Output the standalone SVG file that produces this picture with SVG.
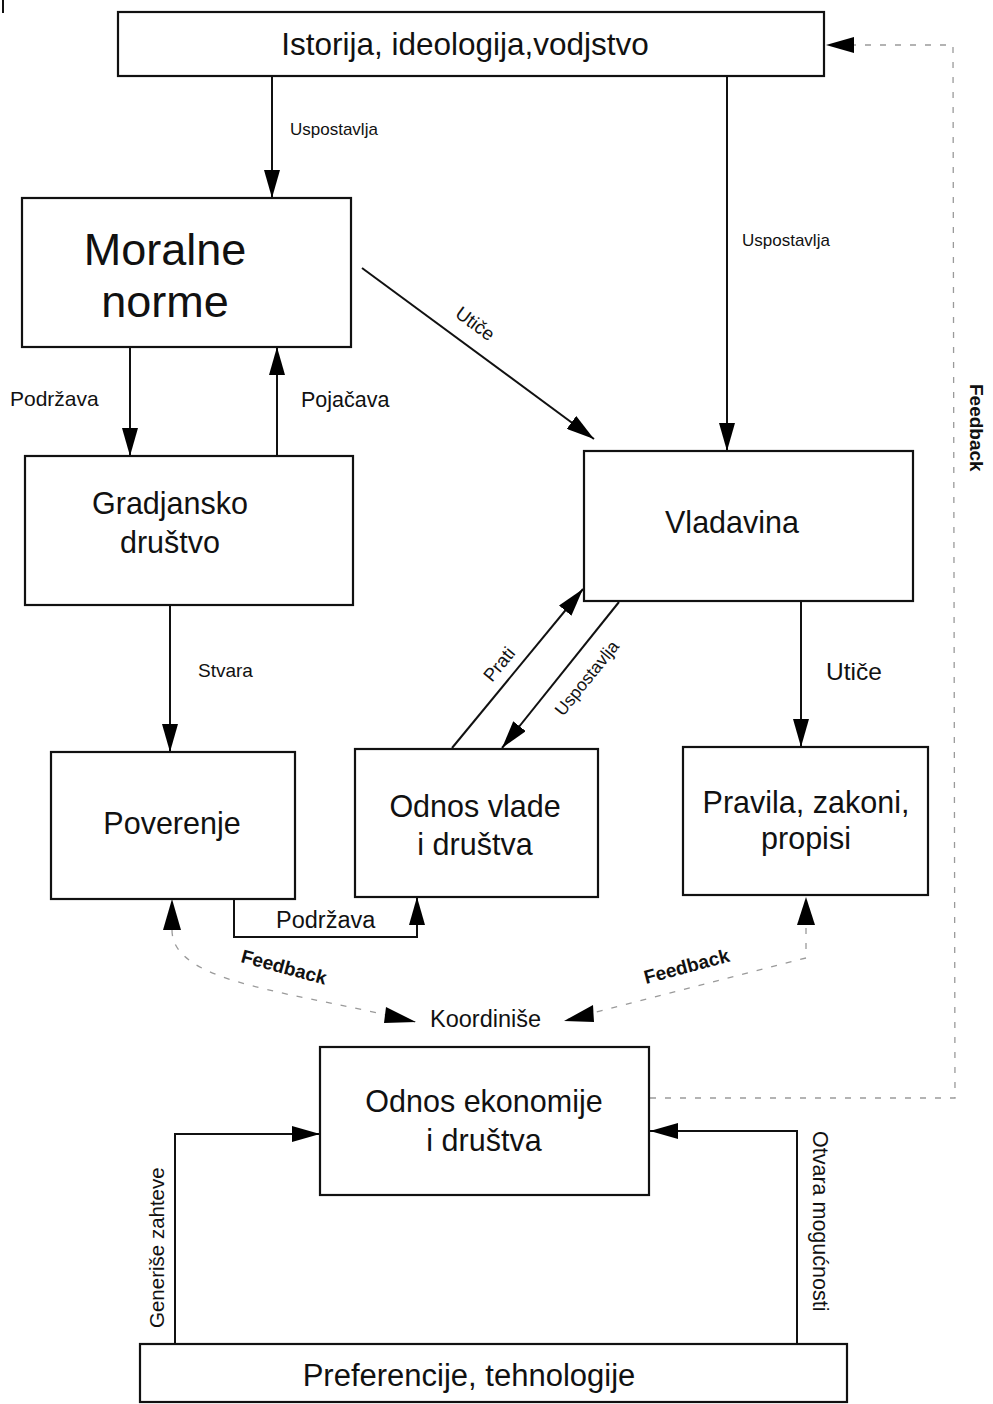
<svg xmlns="http://www.w3.org/2000/svg" width="993" height="1404" viewBox="0 0 993 1404">
<style>
.box{fill:#fff;stroke:#111;stroke-width:2.2}
.t{font-family:"Liberation Sans",Arial,sans-serif;fill:#111;text-anchor:middle}
.l{font-family:"Liberation Sans",Arial,sans-serif;fill:#111}
.fb{font-family:"Liberation Sans",Arial,sans-serif;fill:#111;font-weight:bold}
.c{fill:none;stroke:#111;stroke-width:2}
.d{fill:none;stroke:#9a9a9a;stroke-width:1.3;stroke-dasharray:6 9}
</style>
<defs>
<marker id="ah" viewBox="0 0 28 16" refX="28" refY="8" markerWidth="28" markerHeight="16" markerUnits="userSpaceOnUse" orient="auto-start-reverse">
<path d="M0,0 L28,8 L0,16 z" fill="#000"/>
</marker>
</defs>
<rect width="993" height="1404" fill="#fff"/>
<line x1="3" y1="0" x2="3" y2="13" stroke="#111" stroke-width="2"/>

<g id="connectors">
<line class="c" x1="272" y1="76" x2="272" y2="198" marker-end="url(#ah)"/>
<text class="l" x="290" y="135" font-size="17">Uspostavlja</text>
<line class="c" x1="727" y1="76" x2="727" y2="451" marker-end="url(#ah)"/>
<text class="l" x="742" y="246" font-size="17">Uspostavlja</text>
<line class="c" x1="362" y1="268" x2="594" y2="439" marker-end="url(#ah)"/>
<text class="l" font-size="19" transform="translate(454,316) rotate(36.4)">Utiče</text>
<line class="c" x1="130" y1="347" x2="130" y2="456" marker-end="url(#ah)"/>
<text class="l" x="10" y="406" font-size="21">Podržava</text>
<line class="c" x1="277" y1="456" x2="277" y2="347" marker-end="url(#ah)"/>
<text class="l" x="301" y="407" font-size="21.5">Pojačava</text>
<line class="c" x1="170" y1="605" x2="170" y2="752" marker-end="url(#ah)"/>
<text class="l" x="198" y="677" font-size="19">Stvara</text>
<line class="c" x1="452" y1="748" x2="583" y2="589" marker-end="url(#ah)"/>
<text class="l" font-size="18.5" transform="translate(492,683) rotate(-50.5)">Prati</text>
<line class="c" x1="619" y1="602" x2="502" y2="748" marker-end="url(#ah)"/>
<text class="l" font-size="17.5" transform="translate(563,717) rotate(-51)">Uspostavlja</text>
<line class="c" x1="801" y1="601" x2="801" y2="747" marker-end="url(#ah)"/>
<text class="l" x="826" y="680" font-size="24.5">Utiče</text>
<path class="c" d="M234,899 L234,937 L417,937 L417,897" marker-end="url(#ah)"/>
<text class="l" x="276" y="928" font-size="23.5">Podržava</text>
<path class="d" d="M172,930 C172,985 300,992 415,1022"/>
<path d="M172,899 L181,930 L163,930 z" fill="#000"/>
<path d="M386,1007 L416,1022 L384,1023 z" fill="#000"/>
<text class="fb" font-size="19" transform="translate(240,962) rotate(15)">Feedback</text>
<path class="d" d="M806,928 L806,958 L565,1020"/>
<path d="M806,897 L815,925 L797,925 z" fill="#000"/>
<path d="M564,1021 L593,1005 L594,1022 z" fill="#000"/>
<text class="fb" font-size="19" transform="translate(646,984) rotate(-15)">Feedback</text>
<text class="l" x="430" y="1027" font-size="23.5">Koordiniše</text>
<path class="d" d="M650,1098 L955,1098 L953,45 L826,45" marker-end="url(#ah)"/>
<text class="fb" font-size="19" transform="translate(970,384) rotate(90)">Feedback</text>
<path class="c" d="M175,1344 L175,1134 L320,1134" marker-end="url(#ah)"/>
<text class="l" font-size="20.5" transform="translate(164,1328) rotate(-90)">Generiše zahteve</text>
<path class="c" d="M797,1344 L797,1131 L650,1131" marker-end="url(#ah)"/>
<text class="l" font-size="21.5" transform="translate(813,1131) rotate(90)">Otvara mogućnosti</text>
</g>

<g id="n-istorija">
<rect class="box" x="118" y="12" width="706" height="64"/>
<text class="t" x="465" y="55" font-size="31.5">Istorija, ideologija,vodjstvo</text>
</g>
<g id="n-moralne">
<rect class="box" x="22" y="198" width="329" height="149"/>
<text class="t" x="165" y="265" font-size="45">Moralne</text>
<text class="t" x="165" y="317" font-size="45">norme</text>
</g>
<g id="n-gradjansko">
<rect class="box" x="25" y="456" width="328" height="149"/>
<text class="t" x="170" y="514" font-size="30.5">Gradjansko</text>
<text class="t" x="170" y="553" font-size="30.5">društvo</text>
</g>
<g id="n-vladavina">
<rect class="box" x="584" y="451" width="329" height="150"/>
<text class="t" x="732" y="533" font-size="30.5">Vladavina</text>
</g>
<g id="n-poverenje">
<rect class="box" x="51" y="752" width="244" height="147"/>
<text class="t" x="172" y="834" font-size="30.5">Poverenje</text>
</g>
<g id="n-odnos-vlade">
<rect class="box" x="355" y="749" width="243" height="148"/>
<text class="t" x="475" y="817" font-size="30.5">Odnos vlade</text>
<text class="t" x="475" y="855" font-size="30.5">i društva</text>
</g>
<g id="n-pravila">
<rect class="box" x="683" y="747" width="245" height="148"/>
<text class="t" x="806" y="813" font-size="30.5">Pravila, zakoni,</text>
<text class="t" x="806" y="849" font-size="30.5">propisi</text>
</g>
<g id="n-odnos-ekonomije">
<rect class="box" x="320" y="1047" width="329" height="148"/>
<text class="t" x="484" y="1112" font-size="30.5">Odnos ekonomije</text>
<text class="t" x="484" y="1151" font-size="30.5">i društva</text>
</g>
<g id="n-preferencije">
<rect class="box" x="140" y="1344" width="707" height="58"/>
<text class="t" x="469" y="1386" font-size="31">Preferencije, tehnologije</text>
</g>
</svg>
